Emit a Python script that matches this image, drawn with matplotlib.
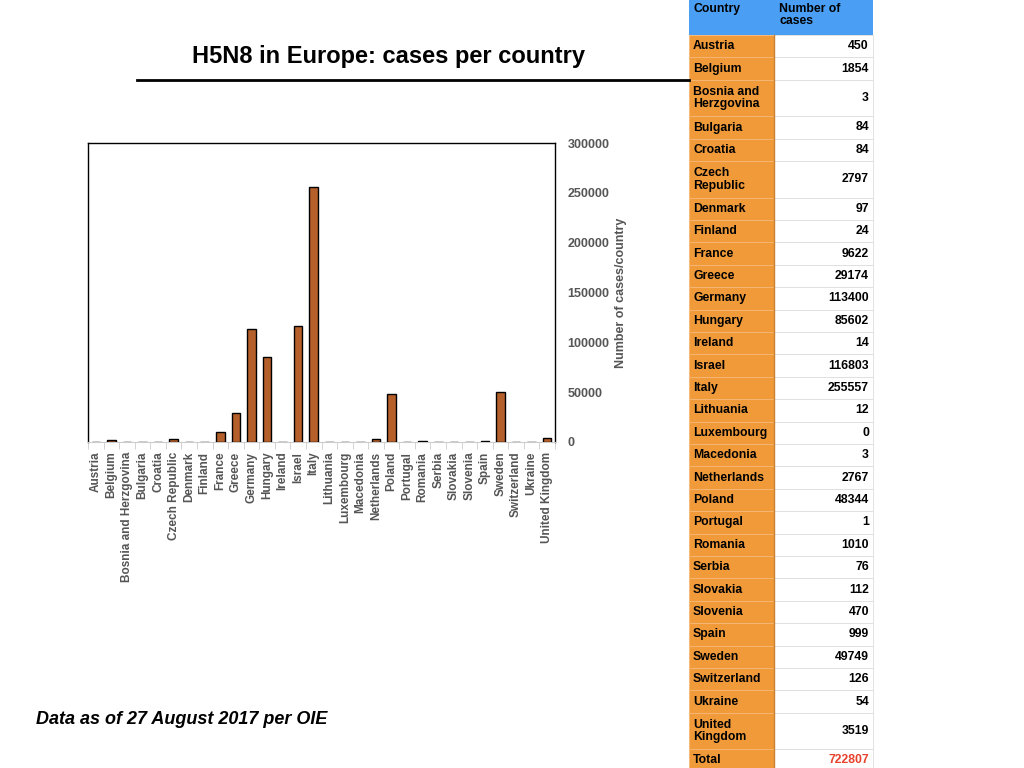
import matplotlib.pyplot as plt
from matplotlib.patches import Rectangle

plt.rcParams['font.family'] = ['Liberation Sans', 'DejaVu Sans']

# data from the table
countries = ["Austria", "Belgium", "Bosnia and Herzgovina", "Bulgaria", "Croatia",
             "Czech Republic", "Denmark", "Finland", "France", "Greece", "Germany",
             "Hungary", "Ireland", "Israel", "Italy", "Lithuania", "Luxembourg",
             "Macedonia", "Netherlands", "Poland", "Portugal", "Romania", "Serbia",
             "Slovakia", "Slovenia", "Spain", "Sweden", "Switzerland", "Ukraine",
             "United Kingdom"]
cases = [450, 1854, 3, 84, 84, 2797, 97, 24, 9622, 29174, 113400, 85602, 14,
         116803, 255557, 12, 0, 3, 2767, 48344, 1, 1010, 76, 112, 470, 999,
         49749, 126, 54, 3519]
table_names = ["Austria", "Belgium", "Bosnia and\nHerzgovina", "Bulgaria", "Croatia",
               "Czech\nRepublic", "Denmark", "Finland", "France", "Greece", "Germany",
               "Hungary", "Ireland", "Israel", "Italy", "Lithuania", "Luxembourg",
               "Macedonia", "Netherlands", "Poland", "Portugal", "Romania", "Serbia",
               "Slovakia", "Slovenia", "Spain", "Sweden", "Switzerland", "Ukraine",
               "United\nKingdom"]
total = 722807
yticks = [0, 50000, 100000, 150000, 200000, 250000, 300000]

W, H = 1024, 768
fig = plt.figure(figsize=(W / 100, H / 100), dpi=100)

# title + rule
fig.text(388 / W, 1 - 56 / H, "H5N8 in Europe: cases per country", ha="center", va="center",
         fontsize=17, fontweight="bold")
fig.add_artist(plt.Line2D([137 / W, 689 / W], [1 - 80 / H, 1 - 80 / H], color="black", lw=2))

# bar chart
ax = fig.add_axes([88 / W, 1 - 442 / H, (555 - 88) / W, (442 - 143) / H])
x = range(len(countries))
ax.bar(x, cases, width=0.55, color="#b5602a", edgecolor="black", linewidth=1, zorder=3)
ax.set_xlim(-0.5, len(countries) - 0.5)
ax.set_ylim(0, 300000)
ax.yaxis.tick_right()
ax.yaxis.set_label_position("right")
ax.set_yticks(yticks)
ax.set_yticklabels([str(v) for v in yticks], fontsize=9, fontweight="bold", color="#555555")
ax.tick_params(axis="y", length=0, pad=9)
ax.set_ylabel("Number of cases/country", fontsize=9, fontweight="bold", color="#555555", labelpad=4)
ax.set_xticks(list(x))
ax.set_xticklabels(countries, rotation=90, fontsize=8.5, fontweight="bold", color="#555555")
ax.set_xticks([i - 0.5 for i in range(len(countries) + 1)], minor=True)
ax.tick_params(axis="x", which="major", length=0, pad=7)
ax.tick_params(axis="x", which="minor", length=5, color="#cccccc")
for s in ["left", "top", "right"]:
    ax.spines[s].set_color("black")
    ax.spines[s].set_linewidth(1)
ax.spines["bottom"].set_color("#cccccc")

# footnote
fig.text(36 / W, 1 - 720 / H, "Data as of 27 August 2017 per OIE", ha="left", va="center",
         fontsize=13, fontweight="bold", fontstyle="italic")

# table on the right, drawn in pixel coordinates
tab = fig.add_axes([0, 0, 1, 1])
tab.set_xlim(0, W)
tab.set_ylim(H, 0)
tab.axis("off")

x0, x1, x2 = 689, 774, 873
orange = "#f09a3a"
tab.add_patch(Rectangle((x0, 0), x2 - x0, 35, facecolor="#4a9ff5", edgecolor="none"))
tab.text(x0 + 4, 3, "Country", ha="left", va="top", fontsize=8.8, fontweight="bold")
tab.text(x1 + 5, 3, "Number of\ncases", ha="left", va="top", fontsize=8.8, fontweight="bold",
         linespacing=1.05)

y = 35
rows = list(zip(table_names, [str(c) for c in cases])) + [("Total", str(total))]
for name, val in rows:
    h = 36.5 if "\n" in name else 22.4
    tab.add_patch(Rectangle((x0, y), x1 - x0, h, facecolor=orange, edgecolor="#f5b878", lw=0.6))
    tab.add_patch(Rectangle((x1, y), x2 - x1, h, facecolor="white", edgecolor="#dddddd", lw=0.6))
    tab.text(x0 + 4, y + h / 2, name, ha="left", va="center", fontsize=8.8, fontweight="bold",
             linespacing=1.05)
    col = "#e8412c" if name == "Total" else "black"
    tab.text(x2 - 4, y + h / 2, val, ha="right", va="center", fontsize=8.8, fontweight="bold",
             color=col)
    y += h
tab.plot([x1, x1], [35, H], color="#c98030", lw=1)

fig.savefig("out.png", dpi=100)
